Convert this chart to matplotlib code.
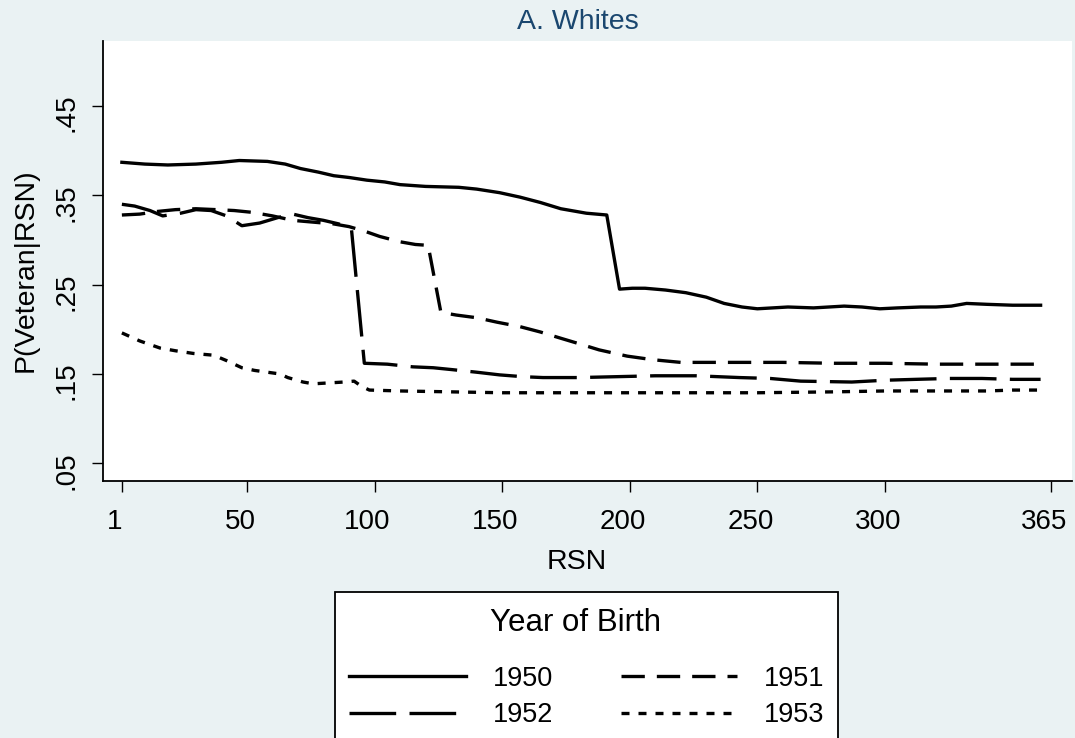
import matplotlib
matplotlib.use("Agg")
import matplotlib.pyplot as plt
from matplotlib.patches import Rectangle
from matplotlib.transforms import ScaledTranslation

plt.rcParams["font.family"] = ["Liberation Sans", "DejaVu Sans"]

BG = "#EAF2F3"
TITLE_COLOR = "#1A476F"

# P(Veteran|RSN) by year of birth
rsn_1950 = [1, 10, 19, 30, 40, 47, 58, 65, 71, 78, 84, 90, 97, 104, 110, 120, 133,
            140, 149, 157, 165, 173, 183, 191, 196, 201, 206, 214, 222, 230, 237,
            244, 250, 256, 262, 272, 278, 284, 291, 298, 305, 314, 320, 326, 332,
            340, 350, 361]
p_1950 = [0.387, 0.385, 0.384, 0.385, 0.387, 0.389, 0.388, 0.385, 0.380, 0.376,
          0.372, 0.370, 0.367, 0.365, 0.362, 0.360, 0.359, 0.357, 0.353, 0.348,
          0.342, 0.335, 0.330, 0.328, 0.245, 0.246, 0.246, 0.244, 0.241, 0.236,
          0.229, 0.225, 0.223, 0.224, 0.225, 0.224, 0.225, 0.226, 0.225, 0.223,
          0.224, 0.225, 0.225, 0.226, 0.229, 0.228, 0.227, 0.227]

rsn_1951 = [1, 8, 15, 22, 30, 38, 45, 52, 60, 68, 76, 84, 90, 96, 102, 110, 116,
            121, 126, 132, 140, 148, 157, 165, 173, 180, 188, 199, 209, 220, 240,
            260, 280, 300, 320, 340, 361]
p_1951 = [0.328, 0.329, 0.332, 0.334, 0.335, 0.334, 0.333, 0.331, 0.327, 0.322,
          0.320, 0.318, 0.315, 0.310, 0.304, 0.298, 0.295, 0.294, 0.219, 0.216,
          0.213, 0.208, 0.203, 0.197, 0.190, 0.184, 0.177, 0.170, 0.166, 0.163,
          0.163, 0.163, 0.162, 0.162, 0.161, 0.161, 0.161]

rsn_1952 = [1, 6, 12, 17, 24, 30, 36, 42, 48, 55, 62, 68, 74, 80, 86, 91, 96, 105,
            115, 123, 130, 140, 149, 158, 166, 180, 195, 210, 226, 243, 255, 267,
            287, 300, 312, 325, 338, 350, 361]
p_1952 = [0.340, 0.338, 0.333, 0.327, 0.330, 0.334, 0.333, 0.327, 0.316, 0.319,
          0.325, 0.329, 0.325, 0.322, 0.318, 0.311, 0.162, 0.161, 0.158, 0.157,
          0.155, 0.152, 0.149, 0.147, 0.146, 0.146, 0.147, 0.148, 0.148, 0.146,
          0.145, 0.142, 0.141, 0.143, 0.144, 0.145, 0.145, 0.144, 0.144]

rsn_1953 = [1, 8, 16, 22, 29, 37, 42, 48, 53, 58, 63, 66, 72, 76, 82, 88, 92, 95,
            98, 110, 130, 150, 170, 190, 220, 250, 280, 300, 320, 340, 350, 361]
p_1953 = [0.196, 0.187, 0.179, 0.176, 0.173, 0.171, 0.165, 0.157, 0.154, 0.152,
          0.150, 0.146, 0.141, 0.139, 0.140, 0.141, 0.142, 0.136, 0.132, 0.131,
          0.130, 0.129, 0.129, 0.129, 0.129, 0.129, 0.130, 0.131, 0.131, 0.131,
          0.132, 0.132]

x_ticks = [1, 50, 100, 150, 200, 250, 300, 365]
y_ticks = [0.05, 0.15, 0.25, 0.35, 0.45]
y_tick_labels = [".05", ".15", ".25", ".35", ".45"]

FS = 20
LW = 2.4
W, H = 1075, 738

fig = plt.figure(figsize=(W / 100, H / 100), dpi=100, facecolor=BG)
ax = fig.add_axes([103 / W, 1 - 481 / H, (1072 - 103) / W, 440 / H])
ax.set_facecolor("white")

l50, = ax.plot(rsn_1950, p_1950, color="black", lw=LW, solid_joinstyle="round")
l51, = ax.plot(rsn_1951, p_1951, color="black", lw=LW, linestyle=(0, (7, 3.6)))
l52, = ax.plot(rsn_1952, p_1952, color="black", lw=LW, linestyle=(0, (14, 4)))
l53, = ax.plot(rsn_1953, p_1953, color="black", lw=LW, linestyle=(0, (2.4, 2.7)))

ax.set_xlim(-6.4, 373.3)
ax.set_ylim(0.0302, 0.5228)
ax.set_xticks(x_ticks)
ax.set_xticklabels([str(t) for t in x_ticks])
ax.set_yticks(y_ticks)
ax.set_yticklabels(y_tick_labels, rotation=90, va="center")

for side in ("top", "right"):
    ax.spines[side].set_visible(False)
for side in ("left", "bottom"):
    ax.spines[side].set_linewidth(1.3)
ax.tick_params(axis="both", length=8, width=1.0, labelsize=FS)
ax.tick_params(axis="x", pad=12)
ax.tick_params(axis="y", pad=9)

# the reference's labels sit a few pixels left / below their ticks
for lab in ax.get_xticklabels():
    lab.set_transform(lab.get_transform() + ScaledTranslation(-0.07, 0, fig.dpi_scale_trans))
for lab in ax.get_yticklabels():
    lab.set_transform(lab.get_transform() + ScaledTranslation(0, -0.07, fig.dpi_scale_trans))

ax.set_xlabel("RSN", fontsize=20.5)
ax.xaxis.set_label_coords((577 - 103) / (1072 - 103), -0.155)
ax.set_ylabel("P(Veteran|RSN)", fontsize=20.5)
ax.yaxis.set_label_coords(-0.066, (481 - 270) / 440)

fig.text(578 / W, 1 - 22 / H, "A. Whites", ha="center", va="center",
         fontsize=20.5, color=TITLE_COLOR)

# legend box (Stata style: square frame, title, 2 columns)
fig.patches.append(Rectangle((335 / W, -0.01), (838 - 335) / W, 1 - 592 / H + 0.01,
                             transform=fig.transFigure, facecolor="white",
                             edgecolor="black", lw=1.3, zorder=1))
fig.text(575 / W, 1 - 623 / H, "Year of Birth", ha="center", va="center",
         fontsize=22.5, zorder=6)
leg = fig.legend([l50, l52, l51, l53], ["1950", "1952", "1951", "1953"],
                 ncol=2, fontsize=19.5, loc="center",
                 bbox_to_anchor=(587 / W, 1 - 697 / H),
                 frameon=False, handlelength=4.3, handletextpad=1.0,
                 columnspacing=2.5, borderpad=0, labelspacing=0.38,
                 borderaxespad=0)

fig.savefig("out.png", dpi=100, facecolor=BG)
